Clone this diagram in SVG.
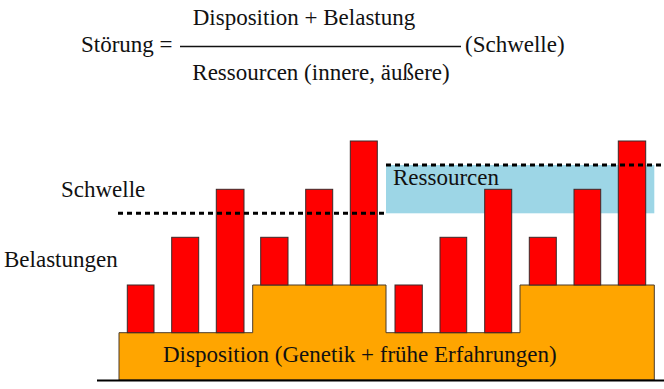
<svg xmlns="http://www.w3.org/2000/svg" width="664" height="389" viewBox="0 0 664 389">
<style>
text{font-family:"Liberation Serif","Times New Roman",serif;font-size:23px;fill:#111}
.bar{fill:#ff0000;stroke:#3a2a2a;stroke-width:1}
.dot{stroke:#000;stroke-width:3;stroke-dasharray:5 4;fill:none}
</style>
<rect width="664" height="389" fill="#fff"/>
<g id="formula">
<text x="81" y="52">Störung =</text>
<line x1="180" y1="46.5" x2="461" y2="46.5" stroke="#111" stroke-width="1.5"/>
<text x="304" y="25" text-anchor="middle">Disposition + Belastung</text>
<text x="321" y="80" text-anchor="middle">Ressourcen (innere, äußere)</text>
<text x="465" y="52">(Schwelle)</text>
</g>
<g id="ressourcen">
<rect x="386" y="165" width="268.3" height="48.3" fill="#9dd6e6"/>
<text x="393" y="185">Ressourcen</text>
</g>
<g id="disposition">
<path d="M119,380 V332.7 H252.7 V285 H386 V332.7 H520 V285 H654.3 V380 Z" fill="#ffa500" stroke="#4a3a2a" stroke-width="1"/>
<text x="163" y="361.5">Disposition (Genetik + frühe Erfahrungen)</text>
</g>
<g id="belastungen">
<rect class="bar" x="127.3" y="285" width="26.7" height="47.7"/>
<rect class="bar" x="171.7" y="237.3" width="27" height="95.4"/>
<rect class="bar" x="216.3" y="189.3" width="27.7" height="143.4"/>
<rect class="bar" x="260.7" y="237.3" width="27.3" height="47.7"/>
<rect class="bar" x="305.7" y="189.3" width="27" height="95.7"/>
<rect class="bar" x="350.3" y="141" width="27" height="144"/>
<rect class="bar" x="395" y="285" width="27.3" height="47.7"/>
<rect class="bar" x="440" y="237.3" width="26.7" height="95.4"/>
<rect class="bar" x="484.7" y="189.3" width="27" height="143.4"/>
<rect class="bar" x="529.3" y="237.3" width="27" height="47.7"/>
<rect class="bar" x="574" y="189.3" width="26.7" height="95.7"/>
<rect class="bar" x="618.3" y="141" width="27.4" height="144"/>
<text x="4" y="267">Belastungen</text>
</g>
<g id="schwelle">
<text x="61" y="197">Schwelle</text>
</g>
<g id="connectors">
<line class="dot" x1="118" y1="213.3" x2="388" y2="213.3"/>
<line class="dot" x1="386" y1="165" x2="662" y2="165"/>
<line x1="97" y1="380.5" x2="664" y2="380.5" stroke="#000" stroke-width="2"/>
</g>
</svg>
